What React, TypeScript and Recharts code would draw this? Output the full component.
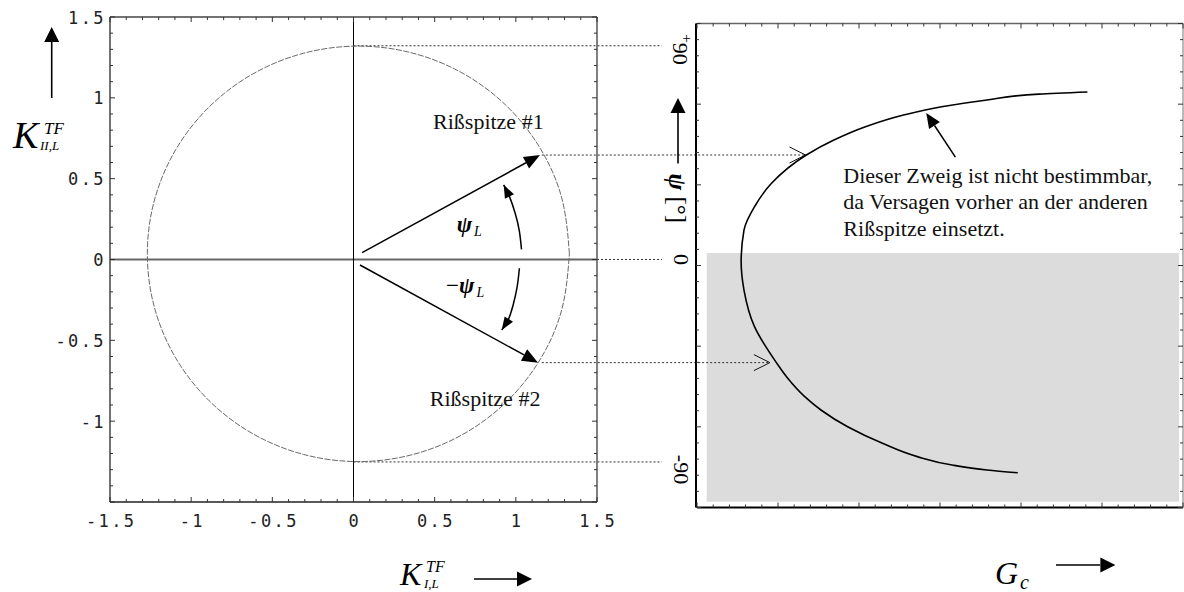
import React from "react";
import {
  ComposedChart,
  Line,
  XAxis,
  YAxis,
  ReferenceLine,
  ReferenceDot,
  ReferenceArea,
} from "recharts";

const W = 1184;
const H = 592;
const SERIF = "'Liberation Serif', 'Times New Roman', serif";
const MONO = "'DejaVu Sans Mono', monospace";

// ---------- left panel: K_I,L / K_II,L plane ----------
const kMajor = [-1.5, -1, -0.5, 0, 0.5, 1, 1.5];
const kLabelsX = [-1.5, -1, -0.5, 0, 0.5, 1, 1.5];
const kLabelsY = [-1, -0.5, 0, 0.5, 1, 1.5];
const kTicks = Array.from({ length: 31 }, (_, i) => (i - 15) / 10);

// locus of the two crack tips (closed curve)
const locus = [
  { x: 1.33, y: 0.035 },
  { x: 1.286, y: 0.368 },
  { x: 1.156, y: 0.678 },
  { x: 0.949, y: 0.944 },
  { x: 0.68, y: 1.148 },
  { x: 0.367, y: 1.276 },
  { x: 0.03, y: 1.32 },
  { x: -0.307, y: 1.276 },
  { x: -0.62, y: 1.148 },
  { x: -0.889, y: 0.944 },
  { x: -1.096, y: 0.678 },
  { x: -1.226, y: 0.368 },
  { x: -1.27, y: 0.035 },
  { x: -1.226, y: -0.298 },
  { x: -1.096, y: -0.608 },
  { x: -0.889, y: -0.874 },
  { x: -0.62, y: -1.078 },
  { x: -0.307, y: -1.206 },
  { x: 0.03, y: -1.25 },
  { x: 0.367, y: -1.206 },
  { x: 0.68, y: -1.078 },
  { x: 0.949, y: -0.874 },
  { x: 1.156, y: -0.608 },
  { x: 1.286, y: -0.298 },
  { x: 1.33, y: 0.035 },
];

// vectors to crack tip #1 and #2
const tipVectors = [
  { x1: 0.053, y1: 0.042, x2: 1.149, y2: 0.646 },
  { x1: 0.04, y1: -0.034, x2: 1.137, y2: -0.638 },
];

// angle arcs (psi_L and -psi_L)
const arcUp = [
  { x: 1.035, y: 0.063 },
  { x: 1.021, y: 0.18 },
  { x: 0.996, y: 0.286 },
  { x: 0.961, y: 0.389 },
  { x: 0.925, y: 0.462 },
];
const arcDown = [
  { x: 1.022, y: -0.054 },
  { x: 1.008, y: -0.17 },
  { x: 0.983, y: -0.283 },
  { x: 0.951, y: -0.378 },
  { x: 0.913, y: -0.436 },
];

// dashed projection lines over to the psi axis
const projections = [
  { y: 1.322, from: 0 },
  { y: 0.646, from: 1.16 },
  { y: 0, from: 1.5 },
  { y: -0.638, from: 1.16 },
  { y: -1.252, from: 0 },
];
const projectionEnd = 1.9;

const tipLabels = [
  { x: 0.49, y: 0.81, text: "Rißspitze #1" },
  { x: 0.47, y: -0.905, text: "Rißspitze #2" },
];
const angleLabels = [
  { x: 0.636, y: 0.17, prefix: "" },
  { x: 0.57, y: -0.205, prefix: "\u2212" },
];

// ---------- right panel: G_c over psi ----------
const gMajor = [0, 1, 2, 3, 4, 5, 6];
const gTicks = Array.from({ length: 31 }, (_, i) => (i * 2) / 10);
const psiDomain = [-106.3, 101.16];
const psiLabels = [90, 0, -90];

const gcCurve = [
  { g: 4.82, psi: 71.8 },
  { g: 4.22, psi: 70.9 },
  { g: 3.58, psi: 68.4 },
  { g: 3.02, psi: 65.5 },
  { g: 2.55, psi: 61.9 },
  { g: 2.08, psi: 56.9 },
  { g: 1.69, psi: 51.2 },
  { g: 1.35, psi: 44.8 },
  { g: 0.92, psi: 32.7 },
  { g: 0.71, psi: 22.6 },
  { g: 0.58, psi: 12.6 },
  { g: 0.545, psi: -1 },
  { g: 0.58, psi: -13.1 },
  { g: 0.71, psi: -28.8 },
  { g: 0.98, psi: -44.2 },
  { g: 1.12, psi: -50.9 },
  { g: 1.33, psi: -58.8 },
  { g: 1.53, psi: -64.5 },
  { g: 1.86, psi: -71.7 },
  { g: 2.29, psi: -78.8 },
  { g: 2.72, psi: -84.5 },
  { g: 3.15, psi: -88.1 },
  { g: 3.58, psi: -90.2 },
  { g: 3.96, psi: -91.4 },
];

// where the projection lines of the two tips meet the curve
const psiHits = [
  { psi: 44.8, g: 1.34 },
  { psi: -44.2, g: 0.9 },
];
const hitStart = -0.43;

const hiddenBranch = { g1: 0.12, g2: 5.95, psi1: -103.8, psi2: 2.8 };
const noteLines = [
  "Dieser Zweig ist nicht bestimmbar,",
  "da Versagen vorher an der anderen",
  "Rißspitze einsetzt.",
];
const notePos = { g: 1.807, psi: 32.7 };
const notePointer = { g1: 3.19, psi1: 43.9, g2: 2.83, psi2: 62.8 };

// ---------- drawing helpers ----------
function headPoints(x1: number, y1: number, x2: number, y2: number, len: number, half: number) {
  const a = Math.atan2(y2 - y1, x2 - x1);
  const bx = x2 - len * Math.cos(a);
  const by = y2 - len * Math.sin(a);
  const nx = -Math.sin(a) * half;
  const ny = Math.cos(a) * half;
  return { bx, by, p1: [bx + nx, by + ny], p2: [bx - nx, by - ny] };
}

// ReferenceLine shape: straight arrow with solid / open head, or head only
function arrowShape(kind: "solid" | "open" | "head", len: number, half: number, width = 1.5, dash?: string) {
  return (p: any) => {
    const { x1, y1, x2, y2 } = p;
    const h = headPoints(x1, y1, x2, y2, len, half);
    if (kind === "open") {
      return (
        <g>
          <line x1={x1} y1={y1} x2={x2} y2={y2} stroke="#333" strokeWidth={width} strokeDasharray={dash} />
          <polyline
            points={`${h.p1[0]},${h.p1[1]} ${x2},${y2} ${h.p2[0]},${h.p2[1]}`}
            fill="none"
            stroke="#111"
            strokeWidth={1}
          />
        </g>
      );
    }
    return (
      <g>
        {kind === "solid" && <line x1={x1} y1={y1} x2={h.bx} y2={h.by} stroke="#000" strokeWidth={width} />}
        <polygon points={`${x2},${y2} ${h.p1[0]},${h.p1[1]} ${h.p2[0]},${h.p2[1]}`} fill="#000" />
      </g>
    );
  };
}

function bigArrow(x1: number, y1: number, x2: number, y2: number) {
  const h = headPoints(x1, y1, x2, y2, 15, 7.5);
  return (
    <g>
      <line x1={x1} y1={y1} x2={h.bx} y2={h.by} stroke="#000" strokeWidth={1.6} />
      <polygon points={`${x2},${y2} ${h.p1[0]},${h.p1[1]} ${h.p2[0]},${h.p2[1]}`} fill="#000" />
    </g>
  );
}

const has = (list: number[], v: number) => list.some((m) => Math.abs(m - v) < 1e-6);

// inward frame ticks, with labels on the listed values
function frameTick(
  side: "left" | "right" | "top" | "bottom",
  majors: number[],
  big: number,
  small: number,
  labels: number[] = []
) {
  return (p: any) => {
    const { x, y, payload } = p;
    const v = payload.value;
    const len = has(majors, v) ? big : small;
    const dx = side === "left" ? len : side === "right" ? -len : 0;
    const dy = side === "top" ? len : side === "bottom" ? -len : 0;
    let label = null;
    if (has(labels, v)) {
      const common = { fontFamily: MONO, fontSize: 17, letterSpacing: 2.4, fill: "#222" };
      label =
        side === "left" ? (
          <text x={x - 4} y={y + 6.5} textAnchor="end" {...common}>
            {String(v)}
          </text>
        ) : (
          <text x={x + 1.2} y={y + 24.5} textAnchor="middle" {...common}>
            {String(v)}
          </text>
        );
    }
    return (
      <g>
        <line x1={x} y1={y} x2={x + dx} y2={y + dy} stroke="#333" strokeWidth={1} />
        {label}
      </g>
    );
  };
}

function psiTick(p: any) {
  const { x, y, payload } = p;
  const v = payload.value;
  const cx = x - 16;
  return (
    <text
      x={cx}
      y={y}
      transform={`rotate(90 ${cx} ${y})`}
      textAnchor="middle"
      dominantBaseline="central"
      fontFamily={SERIF}
      fontSize={22}
      fill="#000"
    >
      {v > 0 ? (
        <>
          <tspan fontSize={15} dy={-6}>+</tspan>
          <tspan dy={6}>{v}</tspan>
        </>
      ) : (
        String(v)
      )}
    </text>
  );
}

function kiiTitle(p: any) {
  const vb = p.viewBox || { x: 109, y: 17 };
  const x = vb.x - 96;
  const y = vb.y + 131;
  return (
    <g>
      {bigArrow(vb.x - 57.3, vb.y + 81, vb.x - 57.3, vb.y + 10)}
      <text fontFamily={SERIF} fontStyle="italic" fill="#000">
        <tspan x={x} y={y} fontSize={38}>K</tspan>
        <tspan x={x + 31} y={y - 14} fontSize={17}>TF</tspan>
        <tspan x={x + 27} y={y + 2} fontSize={13}>II,L</tspan>
      </text>
    </g>
  );
}

function kiTitle(p: any) {
  const vb = p.viewBox || { x: 110, y: 502 };
  const x = vb.x + 290;
  const y = vb.y + 83;
  return (
    <g>
      <text fontFamily={SERIF} fontStyle="italic" fill="#000">
        <tspan x={x} y={y} fontSize={32}>K</tspan>
        <tspan x={x + 26} y={y - 13} fontSize={16}>TF</tspan>
        <tspan x={x + 24} y={y + 3} fontSize={13}>I,L</tspan>
      </text>
      {bigArrow(vb.x + 364, vb.y + 77, vb.x + 422, vb.y + 77)}
    </g>
  );
}

function gcTitle(p: any) {
  const vb = p.viewBox || { x: 697, y: 507.5 };
  const x = vb.x + 298;
  const y = vb.y + 76;
  return (
    <g>
      <text fontFamily={SERIF} fontStyle="italic" fill="#000">
        <tspan x={x} y={y} fontSize={32}>G</tspan>
        <tspan x={x + 25} y={y + 5} fontSize={20}>c</tspan>
      </text>
      {bigArrow(vb.x + 359, vb.y + 57.5, vb.x + 418.4, vb.y + 57.5)}
    </g>
  );
}

function psiTitle(p: any) {
  const vb = p.viewBox || { x: 696, y: 23.5 };
  const cx = vb.x - 18;
  const ty = vb.y + 150;
  return (
    <g>
      {bigArrow(cx, vb.y + 140, cx, vb.y + 74.5)}
      <text
        x={cx}
        y={ty}
        transform={`rotate(90 ${cx} ${ty})`}
        dominantBaseline="central"
        fontFamily={SERIF}
        fontSize={25}
        fill="#000"
      >
        <tspan fontStyle="italic" fontWeight="bold">ψ</tspan>
        <tspan> [°]</tspan>
      </text>
    </g>
  );
}

// axes need a non-zero box to be drawn, so each one takes 1px out of the margin
const AX = { tickSize: 0, tickMargin: 0, tickLine: false, interval: 0 as const, allowDataOverflow: true };

function LeftPanel() {
  return (
    <ComposedChart
      width={W}
      height={H}
      data={locus}
      margin={{ top: 16, right: 586, bottom: 89, left: 109 }}
    >
      <XAxis
        {...AX}
        type="number"
        dataKey="x"
        domain={[-1.5, 1.5]}
        ticks={kTicks}
        height={1}
        axisLine={{ stroke: "#222", strokeWidth: 1.5 }}
        tick={frameTick("bottom", kMajor, 5, 3, kLabelsX)}
        label={kiTitle}
      />
      <XAxis
        {...AX}
        xAxisId="top"
        orientation="top"
        type="number"
        dataKey="x"
        domain={[-1.5, 1.5]}
        ticks={kTicks}
        height={1}
        axisLine={{ stroke: "#444", strokeWidth: 1.5 }}
        tick={frameTick("top", kMajor, 5, 3)}
      />
      <YAxis
        {...AX}
        type="number"
        domain={[-1.5, 1.5]}
        ticks={kTicks}
        width={1}
        axisLine={{ stroke: "#444", strokeWidth: 1.5 }}
        tick={frameTick("left", kMajor, 5, 3, kLabelsY)}
        label={kiiTitle}
      />
      <YAxis
        {...AX}
        yAxisId="right"
        orientation="right"
        type="number"
        domain={[-1.5, 1.5]}
        ticks={kTicks}
        width={1}
        axisLine={{ stroke: "#555", strokeWidth: 1.5 }}
        tick={frameTick("right", kMajor, 5, 3)}
      />

      <ReferenceLine y={0} stroke="#666" strokeWidth={2} />
      <ReferenceLine x={0} stroke="#000" strokeWidth={1} />

      {projections.map((pr, i) => (
        <ReferenceLine
          key={`pr${i}`}
          segment={[
            { x: pr.from, y: pr.y },
            { x: projectionEnd, y: pr.y },
          ]}
          ifOverflow="visible"
          stroke="#333"
          strokeWidth={1}
          strokeDasharray="2 2"
        />
      ))}

      <Line
        dataKey="y"
        type="natural"
        stroke="#6a6a6a"
        strokeWidth={1}
        strokeDasharray="6 1.5"
        dot={false}
        activeDot={false}
        isAnimationActive={false}
      />
      <Line
        data={arcUp}
        dataKey="y"
        type="natural"
        stroke="#000"
        strokeWidth={1.5}
        dot={false}
        activeDot={false}
        isAnimationActive={false}
      />
      <Line
        data={arcDown}
        dataKey="y"
        type="natural"
        stroke="#000"
        strokeWidth={1.5}
        dot={false}
        activeDot={false}
        isAnimationActive={false}
      />
      {[arcUp, arcDown].map((arc, i) => (
        <ReferenceLine
          key={`ah${i}`}
          segment={[arc[arc.length - 2], arc[arc.length - 1]]}
          ifOverflow="visible"
          stroke="#000"
          shape={arrowShape("head", 13, 5)}
        />
      ))}

      {tipVectors.map((v, i) => (
        <ReferenceLine
          key={`tv${i}`}
          segment={[
            { x: v.x1, y: v.y1 },
            { x: v.x2, y: v.y2 },
          ]}
          ifOverflow="visible"
          stroke="#000"
          shape={arrowShape("solid", 16, 6.5, 1.5)}
        />
      ))}

      {tipLabels.map((t, i) => (
        <ReferenceDot
          key={`tl${i}`}
          x={t.x}
          y={t.y}
          r={0}
          shape={(p: any) => (
            <text x={p.cx} y={p.cy} fontFamily={SERIF} fontSize={22} fill="#111">
              {t.text}
            </text>
          )}
        />
      ))}
      {angleLabels.map((a, i) => (
        <ReferenceDot
          key={`al${i}`}
          x={a.x}
          y={a.y}
          r={0}
          shape={(p: any) => (
            <text x={p.cx} y={p.cy} fontFamily={SERIF} fontSize={23} fill="#000">
              {a.prefix && <tspan>{a.prefix}</tspan>}
              <tspan fontStyle="italic" fontWeight="bold">ψ</tspan>
              <tspan fontStyle="italic" fontSize={14} dy={4} dx={2}>L</tspan>
            </text>
          )}
        />
      ))}
    </ComposedChart>
  );
}

function RightPanel() {
  return (
    <ComposedChart
      width={W}
      height={H}
      data={gcCurve}
      margin={{ top: 22.5, right: 0, bottom: 83.5, left: 695 }}
    >
      <XAxis
        {...AX}
        type="number"
        dataKey="g"
        domain={[0, 6]}
        ticks={gTicks}
        height={1}
        axisLine={{ stroke: "#000", strokeWidth: 2 }}
        tick={frameTick("bottom", gMajor, 5, 3)}
        label={gcTitle}
      />
      <XAxis
        {...AX}
        xAxisId="top"
        orientation="top"
        type="number"
        dataKey="g"
        domain={[0, 6]}
        ticks={gTicks}
        height={1}
        axisLine={{ stroke: "#666", strokeWidth: 1.5 }}
        tick={frameTick("top", gMajor, 5, 3)}
      />
      <YAxis
        {...AX}
        type="number"
        domain={psiDomain}
        ticks={psiLabels}
        width={1}
        axisLine={false}
        tick={psiTick}
        label={psiTitle}
      />
      <YAxis
        {...AX}
        yAxisId="fl"
        type="number"
        domain={[0, 6]}
        ticks={gTicks}
        width={1}
        axisLine={{ stroke: "#000", strokeWidth: 2 }}
        tick={frameTick("left", gMajor, 5, 3)}
      />
      <YAxis
        {...AX}
        yAxisId="fr"
        orientation="right"
        type="number"
        domain={[0, 6]}
        ticks={gTicks}
        width={1}
        axisLine={{ stroke: "#777", strokeWidth: 1 }}
        tick={frameTick("right", gMajor, 5, 3)}
      />

      <ReferenceArea
        x1={hiddenBranch.g1}
        x2={hiddenBranch.g2}
        y1={hiddenBranch.psi1}
        y2={hiddenBranch.psi2}
        fill="#dcdcdc"
        fillOpacity={1}
        stroke="none"
        ifOverflow="visible"
      />

      {psiHits.map((h, i) => (
        <ReferenceLine
          key={`hit${i}`}
          segment={[
            { x: hitStart, y: h.psi },
            { x: h.g, y: h.psi },
          ]}
          ifOverflow="visible"
          stroke="#333"
          shape={arrowShape("open", 16, 8, 1, "2 2")}
        />
      ))}

      <Line
        dataKey="psi"
        type="monotoneY"
        stroke="#000"
        strokeWidth={1.6}
        dot={false}
        activeDot={false}
        isAnimationActive={false}
      />

      <ReferenceLine
        segment={[
          { x: notePointer.g1, y: notePointer.psi1 },
          { x: notePointer.g2, y: notePointer.psi2 },
        ]}
        ifOverflow="visible"
        stroke="#000"
        shape={arrowShape("solid", 15, 6.5, 1.5)}
      />
      <ReferenceDot
        x={notePos.g}
        y={notePos.psi}
        r={0}
        shape={(p: any) => (
          <text fontFamily={SERIF} fontSize={22} fill="#111">
            {noteLines.map((l, i) => (
              <tspan key={i} x={p.cx} y={p.cy + i * 26.2}>
                {l}
              </tspan>
            ))}
          </text>
        )}
      />
    </ComposedChart>
  );
}

export default function App() {
  return (
    <div style={{ position: "relative", width: W, height: H, background: "#fff", overflow: "hidden" }}>
      <style>{"body{margin:0;overflow:hidden}"}</style>
      <div style={{ position: "absolute", left: 0, top: 0 }}>
        <LeftPanel />
      </div>
      <div style={{ position: "absolute", left: 0, top: 0 }}>
        <RightPanel />
      </div>
    </div>
  );
}
